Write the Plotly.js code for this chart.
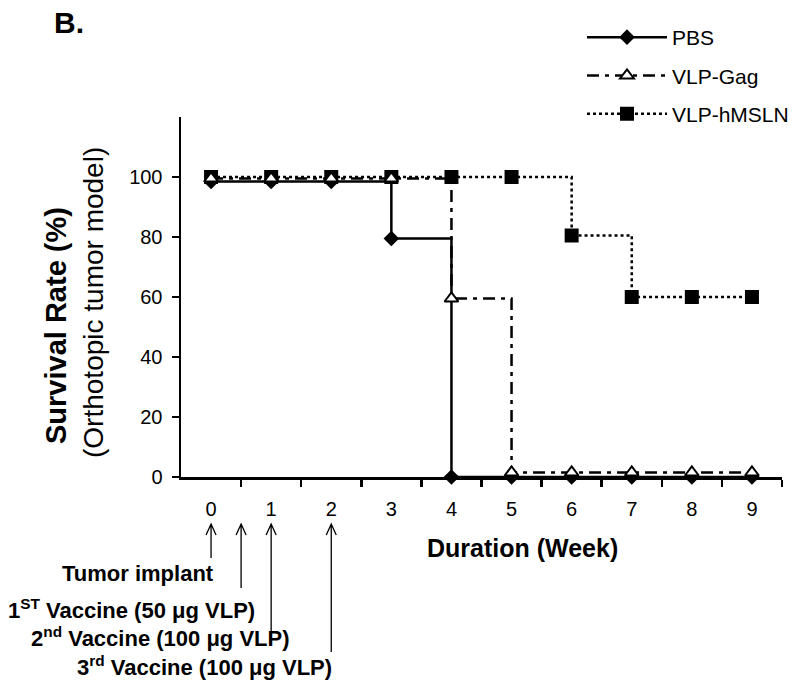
<!DOCTYPE html>
<html>
<head>
<meta charset="utf-8">
<script src="https://cdn.plot.ly/plotly-3.0.1.min.js"></script>
<style>html,body{margin:0;padding:0;background:#fff;}#chart{width:800px;height:681px;}</style>
</head>
<body>
<div id="chart"></div>
<script>
// ---- data ----
const weeks = [0, 1, 2, 3, 4, 5, 6, 7, 8, 9];
const tickLabels = ['0', '1', '2', '3', '4', '5', '6', '7', '8', '9'];
const pbs = [98.5, 98.5, 98.5, 79.5, 0, 0, 0, 0, 0, 0];
const vlpGag = [99.5, 99.5, 99.5, 99.5, 59.5, 1.5, 1.5, 1.5, 1.5, 1.5];
const vlpHmsln = [100, 100, 100, 100, 100, 100, 80.5, 60, 60, 60];
const seriesNames = ['PBS', 'VLP-Gag', 'VLP-hMSLN'];
const yTicks = [0, 20, 40, 60, 80, 100];
const events = [
  {week: 0, text: '<b>Tumor implant</b>'},
  {week: 0.5, text: '<b>1<sup>ST</sup> Vaccine (50 μg VLP)</b>'},
  {week: 1, text: '<b>2<sup>nd</sup> Vaccine (100 μg VLP)</b>'},
  {week: 2, text: '<b>3<sup>rd</sup> Vaccine (100 μg VLP)</b>'}
];

const FONT = 'Liberation Sans, Arial, sans-serif';

const traces = [
  {
    x: weeks, y: pbs, name: seriesNames[0], type: 'scatter', mode: 'lines+markers',
    line: {shape: 'hv', color: '#000', width: 2.5, dash: 'solid'},
    marker: {symbol: 'diamond', size: 12, color: '#000'},
    cliponaxis: false, legendrank: 1, legendgroup: 'g1'
  },
  {
    x: weeks, y: vlpHmsln, name: seriesNames[2], type: 'scatter', mode: 'lines+markers',
    line: {shape: 'hv', color: '#000', width: 2.5, dash: 'dot'},
    marker: {symbol: 'square', size: 14, color: '#000'},
    cliponaxis: false, legendrank: 3, legendgroup: 'g3'
  },
  {
    x: weeks, y: vlpGag, name: seriesNames[1], type: 'scatter', mode: 'lines+markers',
    line: {shape: 'hv', color: '#000', width: 2.5, dash: '12px,6px,4px,6px'},
    marker: {symbol: 'triangle-up', size: 12, color: '#fff', line: {color: '#000', width: 2}},
    cliponaxis: false, legendrank: 2, legendgroup: 'g2'
  }
];

// arrows and texts below the axis
const arrowLen = [34, 64, 108, 128];
const textY = [573, 609, 637, 666];      // pixel centres
const textRight = [216, 257, 292, 334];  // pixel right edges
const plotTop = 117, plotBottom = 477, plotLeft = 181, plotRight = 782;
const py = p => (plotBottom - p) / (plotBottom - plotTop);
const px = p => (p - plotLeft) / (plotRight - plotLeft);

const shapes = [];
const annotations = [];
events.forEach((ev, i) => {
  shapes.push({
    type: 'path', xref: 'x', yref: 'paper',
    xsizemode: 'pixel', ysizemode: 'pixel',
    xanchor: ev.week, yanchor: py(524),
    path: 'M0,0 L0,-' + arrowLen[i] + ' M-5,-11 L0,0 L5,-11',
    line: {color: '#000', width: 1.3}
  });
  annotations.push({
    xref: 'paper', yref: 'paper', x: px(textRight[i]), y: py(textY[i]),
    xanchor: 'right', yanchor: 'middle', showarrow: false,
    text: ev.text, font: {family: FONT, size: 22, color: '#000'}
  });
});
annotations.push({
  xref: 'paper', yref: 'paper', x: px(522), y: py(548), xanchor: 'center', yanchor: 'middle',
  showarrow: false, text: '<b>Duration (Week)</b>', font: {family: FONT, size: 25, color: '#000'}
});
annotations.push({
  xref: 'paper', yref: 'paper', x: px(56), y: py(326), xanchor: 'center', yanchor: 'middle',
  showarrow: false, textangle: -90, text: '<b>Survival Rate (%)</b>', font: {family: FONT, size: 29, color: '#000'}
});
annotations.push({
  xref: 'paper', yref: 'paper', x: px(93), y: py(303), xanchor: 'center', yanchor: 'middle',
  showarrow: false, textangle: -90, text: '(Orthotopic tumor model)', font: {family: FONT, size: 28, color: '#000'}
});
annotations.push({
  xref: 'paper', yref: 'paper', x: px(69), y: py(22), xanchor: 'center', yanchor: 'middle',
  showarrow: false, text: '<b>B.</b>', font: {family: FONT, size: 30, color: '#000'}
});

const layout = {
  width: 800, height: 681,
  margin: {l: plotLeft, r: 800 - plotRight, t: plotTop, b: 681 - plotBottom, pad: 0, autoexpand: false},
  paper_bgcolor: '#fff', plot_bgcolor: '#fff',
  font: {family: FONT, color: '#000'},
  showlegend: true,
  legend: {
    x: px(582), y: py(17), xanchor: 'left', yanchor: 'top',
    font: {family: FONT, size: 21, color: '#000'},
    bgcolor: 'rgba(0,0,0,0)', itemwidth: 80, traceorder: 'grouped', tracegroupgap: 8
  },
  xaxis: {
    range: [-0.5, 9.5], tickmode: 'array', tickvals: weeks, ticktext: tickLabels,
    ticks: '', showline: true, linecolor: '#000', linewidth: 2.5,
    showgrid: false, zeroline: false, ticklabelstandoff: 12,
    tickfont: {family: FONT, size: 20, color: '#000'},
    minor: {tickmode: 'array', tickvals: weeks.map(w => w + 0.5), ticks: 'outside', ticklen: 7, tickwidth: 2.5, tickcolor: '#000', showgrid: false}
  },
  yaxis: {
    range: [0, 120], tickmode: 'array', tickvals: yTicks,
    ticks: 'outside', ticklen: 7, tickwidth: 2.5, tickcolor: '#000',
    showline: true, linecolor: '#000', linewidth: 2.5,
    showgrid: false, zeroline: false, ticklabelstandoff: 5,
    tickfont: {family: FONT, size: 20, color: '#000'}
  },
  shapes: shapes,
  annotations: annotations
};

Plotly.newPlot('chart', traces, layout, {displayModeBar: false, staticPlot: true});
</script>
</body>
</html>
